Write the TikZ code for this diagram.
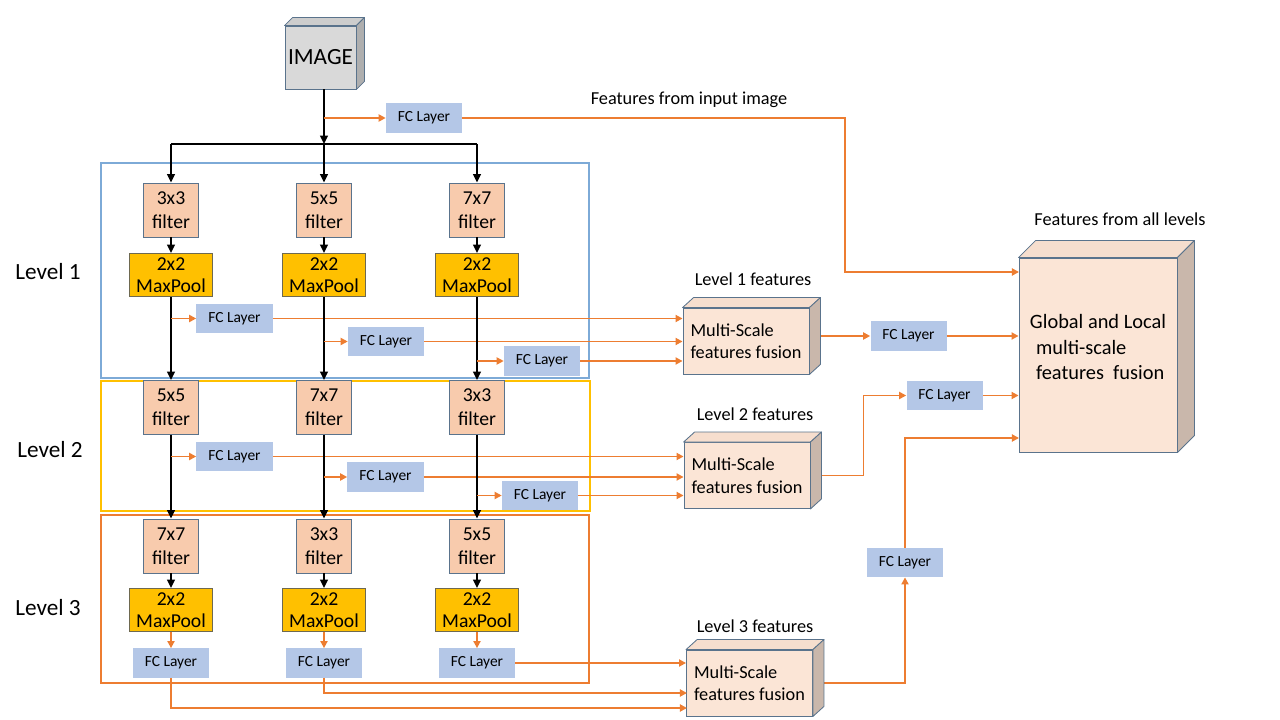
\documentclass[tikz,border=0pt]{standalone}
\usepackage{fontspec}
\setmainfont{Carlito}
\usepackage{xcolor}
\usepackage{tikz}
\usetikzlibrary{arrows.meta}

\definecolor{filterfill}{RGB}{248,203,173}
\definecolor{boxedge}{RGB}{90,115,140}
\definecolor{poolfill}{RGB}{255,192,0}
\definecolor{pooledge}{RGB}{110,105,80}
\definecolor{fcfill}{RGB}{180,199,231}
\definecolor{orgline}{RGB}{237,125,49}
\definecolor{lvlblue}{RGB}{125,170,215}
\definecolor{lvlyellow}{RGB}{255,192,0}
\definecolor{fusefill}{RGB}{251,229,214}
\definecolor{fusetop}{RGB}{246,222,206}
\definecolor{fuseside}{RGB}{201,183,171}
\definecolor{imgfill}{RGB}{217,217,217}
\definecolor{imgtop}{RGB}{205,205,205}
\definecolor{imgside}{RGB}{175,175,175}

\tikzset{
  filterbox/.style={draw=boxedge, fill=filterfill, line width=0.6pt, minimum width=1.375cm, minimum height=1.35cm, inner sep=0pt, align=center, font=\fontsize{14}{17}\selectfont},
  poolbox/.style={draw=pooledge, fill=poolfill, line width=0.6pt, minimum width=2.08cm, minimum height=1.08cm, inner sep=0pt, align=center, font=\fontsize{14}{16}\selectfont},
  fcbox/.style={fill=fcfill, minimum width=1.9cm, minimum height=0.73cm, inner sep=0pt, font=\fontsize{11}{13}\selectfont},
  fusebox/.style={draw=boxedge, fill=fusefill, line width=0.6pt, minimum width=3.15cm, minimum height=1.65cm, inner sep=0pt, align=left, font=\fontsize{13}{16}\selectfont},
  bigbox/.style={draw=boxedge, fill=fusefill, line width=0.6pt, minimum width=3.95cm, minimum height=4.85cm, inner sep=0pt},
  bigtext/.style={align=left, font=\fontsize{14.5}{18.4}\selectfont},
  imgbox/.style={draw=boxedge, fill=imgfill, line width=0.6pt, minimum width=1.775cm, minimum height=1.575cm, inner sep=0pt, font=\fontsize{16.5}{20}\selectfont},
  lvltext/.style={font=\fontsize{16.5}{20}\selectfont},
  feattext/.style={font=\fontsize{13}{16}\selectfont},
  blk/.style={line width=1.4pt, -{Triangle[length=6pt,width=5.5pt]}},
  blkline/.style={line width=1.4pt},
  org/.style={draw=orgline, line width=1.3pt, -{Triangle[length=5pt,width=5pt]}},
  face/.style={draw=boxedge, line width=0.6pt, line join=round}
}

\begin{document}
\begin{tikzpicture}[x=0.025cm, y=-0.025cm]
\useasboundingbox (0,0) rectangle (1280,720);

% Level frames
\draw[lvlblue, line width=0.8pt] (101,163) rectangle (589,378);
\draw[lvlyellow, line width=1.4pt] (101,381) rectangle (590,511);
\draw[orgline, line width=1.4pt] (101,515) rectangle (589,683);

\node[lvltext] (lvl1) at (48,272) {Level 1};
\node[lvltext] (lvl2) at (50,450) {Level 2};
\node[lvltext] (lvl3) at (48,608) {Level 3};

% Input image
\node[imgbox] (img) at (320.5,57.5) {IMAGE};
\draw[face, fill=imgtop] (img.north west) -- ([shift={(8,-8)}]img.north west) -- ([shift={(8,-8)}]img.north east) -- (img.north east) -- cycle;
\draw[face, fill=imgside] (img.north east) -- ([shift={(8,-8)}]img.north east) -- ([shift={(8,-8)}]img.south east) -- (img.south east) -- cycle;
\coordinate (split) at (324,144);
\node[fcbox] (fc0) at (424,118) {FC Layer};
\node[feattext] (inlbl) at (689,100) {Features from input image};

% Columns of the three levels
\foreach \c/\x/\ka/\kb/\kc in {1/171/3x3/5x5/7x7, 2/324/5x5/7x7/3x3, 3/477/7x7/3x3/5x5} {
  \node[filterbox] (f1\c) at (\x,210) {\ka\\filter};
  \node[poolbox] (p1\c) at (\x,275) {2x2\\MaxPool};
  \node[filterbox] (f2\c) at (\x,407.5) {\kb\\filter};
  \node[filterbox] (f3\c) at (\x,546) {\kc\\filter};
  \node[poolbox] (p3\c) at (\x,610) {2x2\\MaxPool};
  \node[fcbox] (fc3\c) at (\x,663) {FC Layer};
}

\node[fcbox] (fc11) at (234.5,318.5) {FC Layer};
\node[fcbox] (fc12) at (386,341.5) {FC Layer};
\node[fcbox] (fc13) at (542,361) {FC Layer};
\node[fcbox] (fc21) at (234.5,456.5) {FC Layer};
\node[fcbox] (fc22) at (385.5,477) {FC Layer};
\node[fcbox] (fc23) at (540,495.5) {FC Layer};

% Fusion blocks
\node[fusebox] (fu1) at (746,341) {Multi-Scale\\features fusion};
\node[fusebox] (fu2) at (747,475.5) {Multi-Scale\\features fusion};
\node[fusebox] (fu3) at (749.5,683) {Multi-Scale\\features fusion};
\node[feattext] (fu1lbl) at (753,279) {Level 1 features};
\node[feattext] (fu2lbl) at (755,414) {Level 2 features};
\node[feattext] (fu3lbl) at (755,626) {Level 3 features};

\node[fcbox] (fcr1) at (908.5,336) {FC Layer};
\node[fcbox] (fcr2) at (944.5,395.5) {FC Layer};
\node[fcbox] (fcr3) at (905,562.5) {FC Layer};

\node[bigbox] (big) at (1098,355) {};
\node[bigtext] (bigtxt) at (1098,347) {Global and Local\\\hspace{0.3em}multi-scale\\\hspace{0.3em}features\ \ fusion};
\node[feattext] (biglbl) at (1120,219) {Features from all levels};

\coordinate (in0) at (1019,272);
\coordinate (in3) at (1019,438);
\coordinate (in32) at (687,693);
\coordinate (in31) at (687,708);

% Black paths
\draw[blk] (split |- img.south) -- (split);
\draw[blkline] (f11 |- split) -- (f13 |- split);
\foreach \c in {1,2,3} {
  \draw[blk] (f1\c |- split) -- (f1\c);
  \draw[blk] (f1\c) -- (p1\c);
  \draw[blk] (p1\c) -- (f2\c);
  \draw[blk] (f2\c) -- (f3\c);
  \draw[blk] (f3\c) -- (p3\c);
  \draw[org] (p3\c) -- (fc3\c);
  \draw[org] (p1\c |- fc1\c) -- (fc1\c);
  \draw[org] (f2\c |- fc2\c) -- (fc2\c);
  \draw[org] (fc1\c) -- (fc1\c -| fu1.west);
  \draw[org] (fc2\c) -- (fc2\c -| fu2.west);
}

% Orange paths
\draw[org] (split |- fc0) -- (fc0);
\draw[org] (fc0.east) -- ++(383,0) |- (in0);
\draw[org] (fc33) -- (fc33 -| fu3.west);
\draw[org] (fc32.south) |- (in32);
\draw[org] (fc31.south) |- (in31);
\draw[org] (fcr1 -| fu1.east) -- (fcr1);
\draw[org] (fu2.east) -- ++(53,0) |- (fcr2);
\draw[org] (fu3.east) -| (fcr3);
\draw[org] (fcr1) -- (fcr1 -| big.west);
\draw[org] (fcr2) -- (fcr2 -| big.west);
\draw[org] (fcr3) |- (in3);

% 3D faces
\foreach \n in {fu1,fu2,fu3} {
  \draw[face, fill=fusetop] (\n.north west) -- ([shift={(11,-10)}]\n.north west) -- ([shift={(11,-10)}]\n.north east) -- (\n.north east) -- cycle;
  \draw[face, fill=fuseside] (\n.north east) -- ([shift={(11,-10)}]\n.north east) -- ([shift={(11,-10)}]\n.south east) -- (\n.south east) -- cycle;
}
\draw[face, fill=fusetop] (big.north west) -- ([shift={(17,-17)}]big.north west) -- ([shift={(17,-17)}]big.north east) -- (big.north east) -- cycle;
\draw[face, fill=fuseside] (big.north east) -- ([shift={(17,-17)}]big.north east) -- ([shift={(17,-17)}]big.south east) -- (big.south east) -- cycle;

\end{tikzpicture}
\end{document}
